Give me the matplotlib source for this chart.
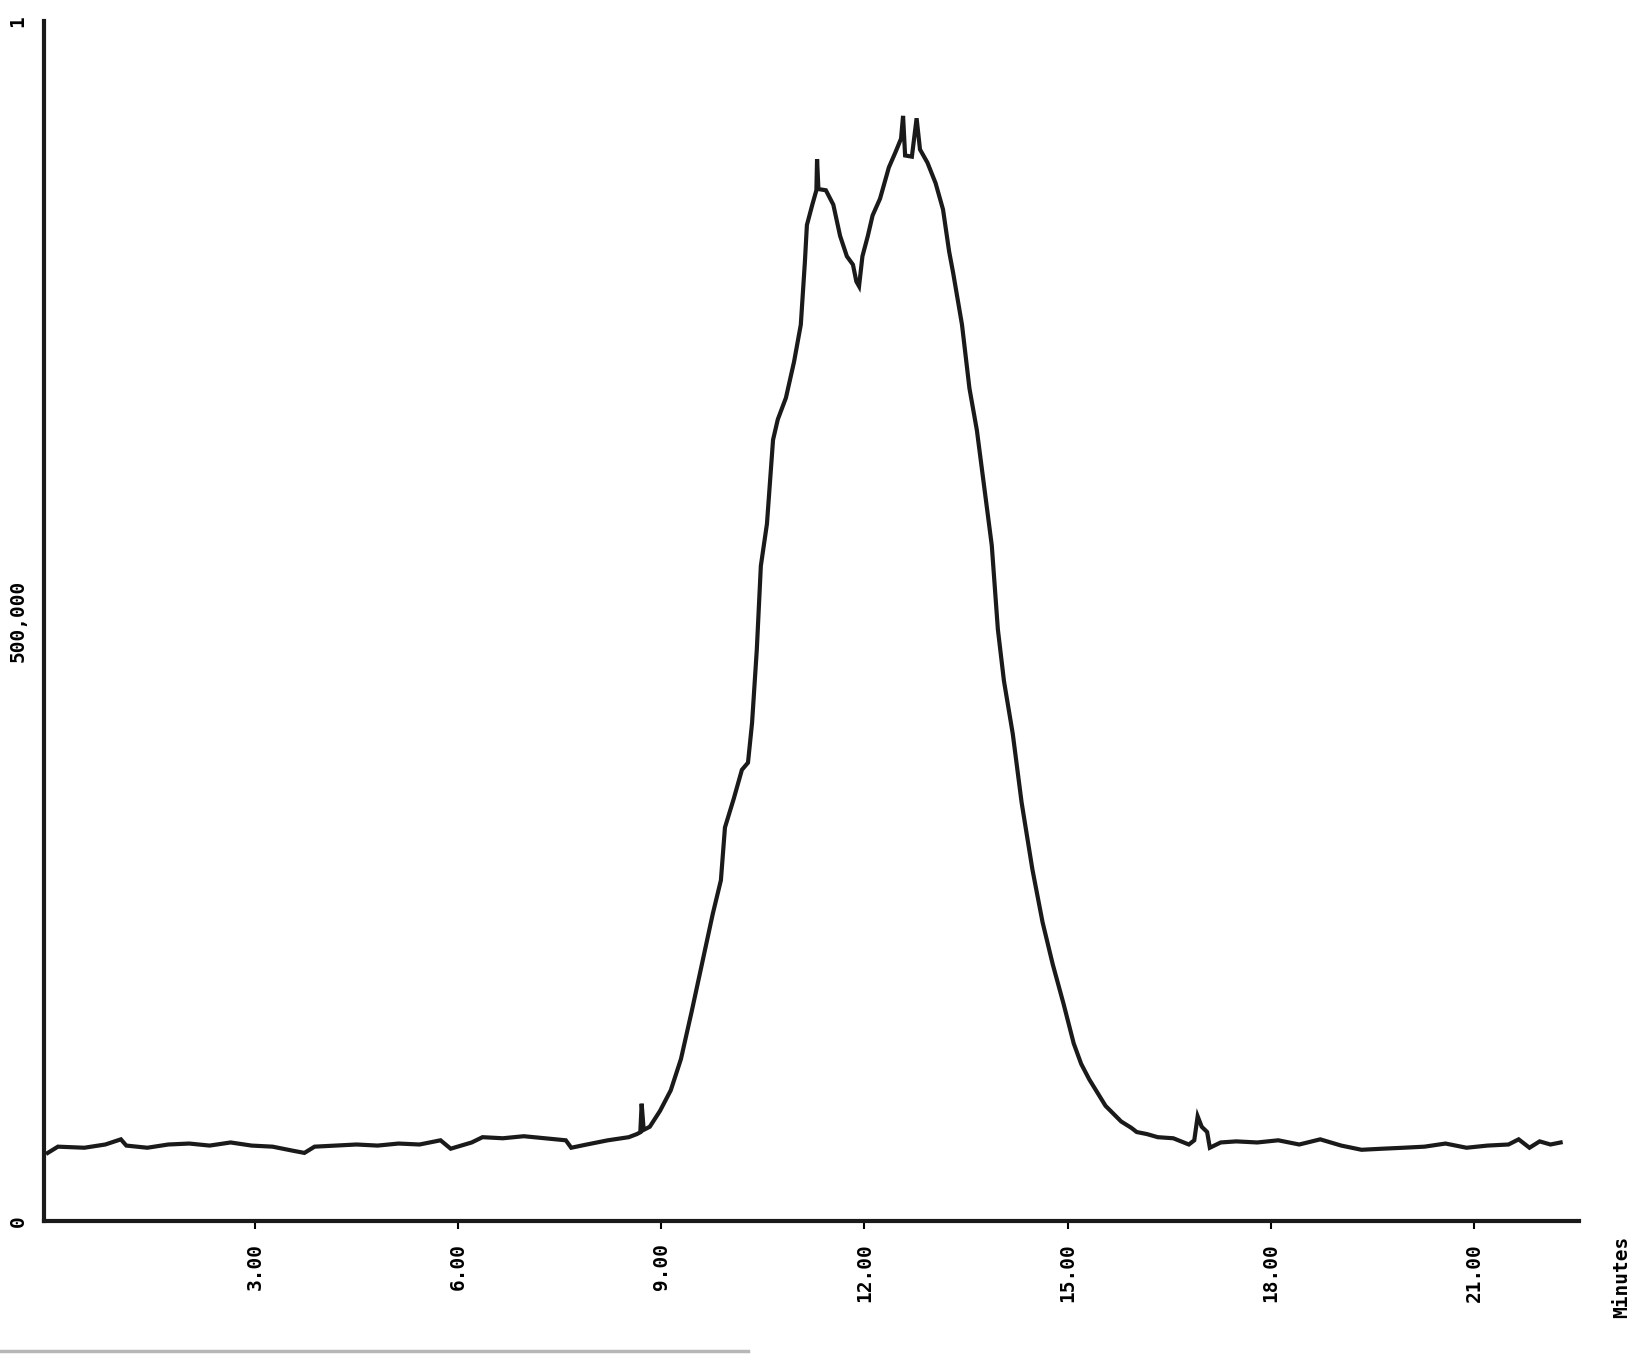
import matplotlib
matplotlib.use("Agg")
import matplotlib.pyplot as plt
from matplotlib.lines import Line2D

# retention time (minutes) and detector signal
minutes = [
    -0.06, 0.09, 0.48, 0.79, 1.02, 1.10, 1.41, 1.72, 2.03, 2.33, 2.64, 2.95,
    3.26, 3.57, 3.73, 3.88, 4.19, 4.50, 4.81, 5.12, 5.43, 5.74, 5.89, 6.20,
    6.36, 6.66, 6.97, 7.28, 7.59, 7.67, 7.90, 8.21, 8.52, 8.64, 8.69, 8.71,
    8.74, 8.83, 8.98, 9.14, 9.29, 9.45, 9.60, 9.76, 9.88, 9.94, 10.07, 10.19,
    10.28, 10.34, 10.41, 10.47, 10.56, 10.65, 10.72, 10.84, 10.96, 11.06,
    11.12, 11.15, 11.23, 11.29, 11.30, 11.32, 11.43, 11.54, 11.64, 11.74,
    11.83, 11.88, 11.92, 11.97, 12.05, 12.12, 12.23, 12.36, 12.46, 12.54,
    12.57, 12.60, 12.70, 12.77, 12.82, 12.93, 13.05, 13.16, 13.25, 13.31,
    13.44, 13.55, 13.66, 13.78, 13.88, 13.97, 14.06, 14.19, 14.32, 14.48,
    14.63, 14.78, 14.94, 15.09, 15.20, 15.32, 15.56, 15.79, 15.94, 16.02,
    16.17, 16.33, 16.56, 16.79, 16.87, 16.92, 16.98, 17.06, 17.10, 17.26,
    17.49, 17.80, 18.11, 18.42, 18.73, 19.04, 19.34, 19.65, 19.96, 20.27,
    20.58, 20.89, 21.20, 21.51, 21.66, 21.82, 21.97, 22.13, 22.28,
]
signal_k = [
    56.8, 62.0, 61.1, 63.8, 68.1, 62.9, 61.1, 63.8, 64.6, 62.9, 65.5, 62.9,
    62.0, 58.5, 56.8, 62.0, 62.9, 63.8, 62.9, 64.6, 63.8, 67.3, 60.3, 65.5,
    69.9, 69.0, 70.7, 69.0, 67.3, 61.1, 63.8, 67.3, 69.9, 72.5, 74.0, 97.8,
    76.0, 78.6, 91.7, 109, 135, 175, 214, 256, 284, 328, 352, 376,
    382, 415, 476, 546, 581, 651, 668, 686, 716, 747,
    799, 830, 847, 859, 885, 860, 859, 847, 821, 804,
    797, 783, 779, 804, 821, 838, 852, 878, 891, 902,
    921, 888, 887, 919, 893, 882, 865, 843, 808, 790,
    747, 694, 659, 607, 563, 493, 450, 406, 349, 293,
    249, 214, 181, 148, 131, 118, 96, 83, 77.7, 74.2,
    72.5, 69.9, 69.0, 63.8, 67.3, 87.3, 78.6, 74.2, 61.1, 65.5,
    66.4, 65.5, 67.3, 63.8, 68.1, 62.9, 59.4, 60.3, 61.1, 62.0,
    64.6, 61.1, 62.9, 63.8, 68.1, 61.1, 66.4, 63.8, 65.5,
]
x_ticks = [3, 6, 9, 12, 15, 18, 21]
x_tick_labels = ["3.00", "6.00", "9.00", "12.00", "15.00", "18.00", "21.00"]
y_ticks = [0, 500000, 1000000]
y_tick_labels = ["0", "500,000", "1"]

signal = [v * 1000 for v in signal_k]

fig = plt.figure(figsize=(16.43, 13.59), dpi=100)
ax = fig.add_axes([0.027, 0.1015, 0.934, 0.883])

ax.plot(minutes, signal, color="#1a1a1a", linewidth=3, solid_joinstyle="miter")

ax.set_xlim(-0.11, 22.55)
ax.set_ylim(0, 1000000)

for side in ["top", "right"]:
    ax.spines[side].set_visible(False)
for side in ["left", "bottom"]:
    ax.spines[side].set_linewidth(3)
    ax.spines[side].set_color("#1a1a1a")

lab_font = dict(family="DejaVu Sans Mono", weight="bold", size=14)

ax.set_xticks(x_ticks)
ax.set_xticklabels(x_tick_labels, rotation=90, **lab_font)
ax.tick_params(axis="x", direction="out", length=6, width=1.5, pad=10)

ax.set_yticks(y_ticks)
ax.set_yticklabels(y_tick_labels, rotation=90, va="center", **lab_font)
ax.tick_params(axis="y", direction="out", length=0, pad=12)

ax.text(1.028, -0.012, "Minutes", transform=ax.transAxes, rotation=90,
        ha="center", va="top", **lab_font)

# faint scan edge at the bottom of the page
fig.add_artist(Line2D([0.0, 0.455], [0.006, 0.006], color="#999999",
                      linewidth=2.5, alpha=0.7))

fig.savefig("out.png", dpi=100, facecolor="white")
plt.close(fig)
